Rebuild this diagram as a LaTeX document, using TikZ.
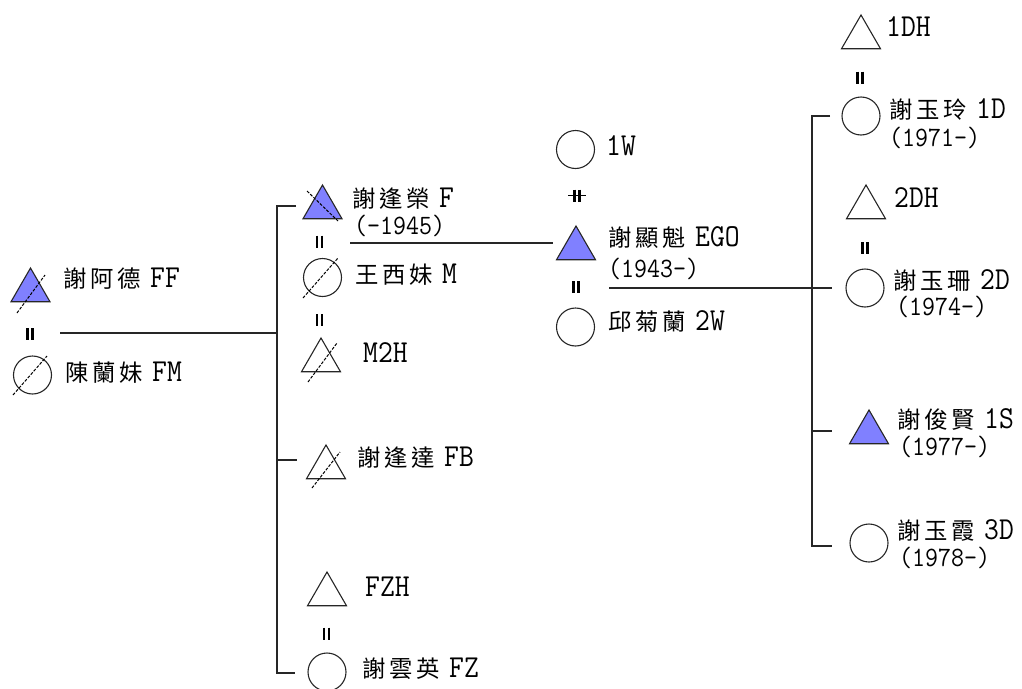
\documentclass[tikz,border=0pt]{standalone}
\usepackage{fontspec}
\setmainfont{Latin Modern Mono}[FakeStretch=0.9]
\newfontfamily\cjk{Noto Sans CJK TC}[Scale=0.73,LetterSpace=17]
\usetikzlibrary{shapes.geometric}
\definecolor{egoblue}{RGB}{128,128,255}
\newcommand{\nm}[2]{{\cjk #1}\hspace{9pt}#2}

\begin{document}
\begin{tikzpicture}[x=1pt,y=-1pt,font=\fontsize{32}{34}\selectfont,
  male/.style={regular polygon,regular polygon sides=3,draw=black!85,line width=1.1pt,inner sep=0pt,minimum size=45pt},
  female/.style={circle,draw=black!85,line width=1.1pt,inner sep=0pt,minimum size=38pt},
  egofill/.style={fill=egoblue},
  dead/.style={dash pattern=on 3pt off 1.5pt,line width=1pt},
  kin/.style={draw=black!85,line width=1.2pt},
  lbl/.style={anchor=base west,inner sep=0pt},
  yr/.style={lbl,font=\fontsize{28}{30}\selectfont},
  marr/.pic={\draw[line width=2.2pt] (-2.5,-6) -- (-2.5,6) (2.5,-6) -- (2.5,6);},
  divorce/.pic={\draw[line width=2.2pt] (-2.5,-6) -- (-2.5,6) (2.5,-6) -- (2.5,6);
    \draw[line width=1pt] (-9,0) -- (9,0);}]
  \useasboundingbox (0,0) rectangle (1022,688);

  \node[male,egofill] (ff) at (30.5,290.5) {};
  \node[female] (fm) at (32.5,375) {};
  \node[male,egofill] (f) at (322.5,207.5) {};
  \node[female] (m) at (322.5,277.5) {};
  \node[male] (mth) at (321,360.5) {};
  \node[male] (fb) at (326,467.5) {};
  \node[male] (fzh) at (327,594.5) {};
  \node[female] (fz) at (327,672) {};
  \node[female] (ww) at (575.5,149.5) {};
  \node[male,egofill] (ego) at (576,248.5) {};
  \node[female] (w) at (575.5,327) {};
  \node[male] (dh1) at (861,37.5) {};
  \node[female] (d1) at (861,116) {};
  \node[male] (dh2) at (866,207.5) {};
  \node[female] (d2) at (865,288) {};
  \node[male,egofill] (s1) at (869,432.5) {};
  \node[female] (d3) at (869,543) {};

  \draw[dead] ([shift={(-13.5,22.5)}]ff.center) -- ([shift={(14.5,-15.5)}]ff.center);
  \draw[dead] ([shift={(-19.5,20)}]fm.center) -- ([shift={(14.5,-19)}]fm.center);
  \draw[dead] ([shift={(-15.5,-16.5)}]f.center) -- ([shift={(15.5,13.5)}]f.center);
  \draw[dead] ([shift={(-19.5,20.5)}]m.center) -- ([shift={(15.5,-19.5)}]m.center);
  \draw[dead] ([shift={(-13,21.5)}]mth.center) -- ([shift={(16,-17.5)}]mth.center);
  \draw[dead] ([shift={(-14,20.5)}]fb.center) -- ([shift={(14,-15.5)}]fb.center);

  \node[lbl] (ffl) at (63,287) {\nm{謝阿德}{FF}};
  \node[lbl] (fml) at (65,381) {\nm{陳蘭妹}{FM}};
  \node[lbl] (fl) at (352,207) {\nm{謝逢榮}{F}};
  \node[yr] (fy) at (354,234) {(-1945)};
  \node[lbl] (ml) at (355,283) {\nm{王西妹}{M}};
  \node[lbl] (mthl) at (363,362) {M2H};
  \node[lbl] (fbl) at (357,466) {\nm{謝逢達}{FB}};
  \node[lbl] (fzhl) at (365,596) {FZH};
  \node[lbl] (fzl) at (362,677) {\nm{謝雲英}{FZ}};
  \node[lbl] (wwl) at (606,155) {1W};
  \node[lbl] (egol) at (608,246) {\nm{謝顯魁}{EGO}};
  \node[yr] (egoy) at (608,277) {(1943-)};
  \node[lbl] (wl) at (608,330) {\nm{邱菊蘭}{2W}};
  \node[lbl] (dh1l) at (886,36) {1DH};
  \node[lbl] (d1l) at (889,118) {\nm{謝玉玲}{1D}};
  \node[yr] (d1y) at (889,146) {(1971-)};
  \node[lbl] (dh2l) at (894,207) {2DH};
  \node[lbl] (d2l) at (893,289) {\nm{謝玉珊}{2D}};
  \node[yr] (d2y) at (896,315) {(1974-)};
  \node[lbl] (s1l) at (897,428) {\nm{謝俊賢}{1S}};
  \node[yr] (s1y) at (899,455) {(1977-)};
  \node[lbl] (d3l) at (897,539) {\nm{謝玉霞}{3D}};
  \node[yr] (d3y) at (899,566) {(1978-)};

  \pic at (30,334) {marr};
  \pic at (319.5,241.5) {marr};
  \pic at (319.5,320) {marr};
  \pic at (577,195.5) {divorce};
  \pic at (576,287) {marr};
  \pic at (860,77.5) {marr};
  \pic at (865,248) {marr};
  \pic at (326.5,633.5) {marr};

  \coordinate (ffm) at (60,333);
  \coordinate (uncle) at (277,333);
  \coordinate (fTick) at (296,206);
  \coordinate (fbTick) at (297,460);
  \coordinate (fzTick) at (295,673);
  \draw[kin] (ffm) -- (uncle);
  \draw[kin] (fTick) -| (uncle) |- (fzTick);
  \draw[kin] (uncle |- fbTick) -- (fbTick);

  \coordinate (fmm) at (350,243);
  \coordinate (egoIn) at (553,243);
  \draw[kin] (fmm) -- (egoIn);

  \coordinate (egom) at (609,288);
  \coordinate (kids) at (812,288);
  \coordinate (d1t) at (830,116);
  \coordinate (d2t) at (832,288);
  \coordinate (s1t) at (832,431);
  \coordinate (d3t) at (832,546);
  \draw[kin] (egom) -- (kids);
  \draw[kin] (d1t) -| (kids) |- (d3t);
  \draw[kin] (kids) -- (d2t);
  \draw[kin] (kids |- s1t) -- (s1t);
\end{tikzpicture}
\end{document}
